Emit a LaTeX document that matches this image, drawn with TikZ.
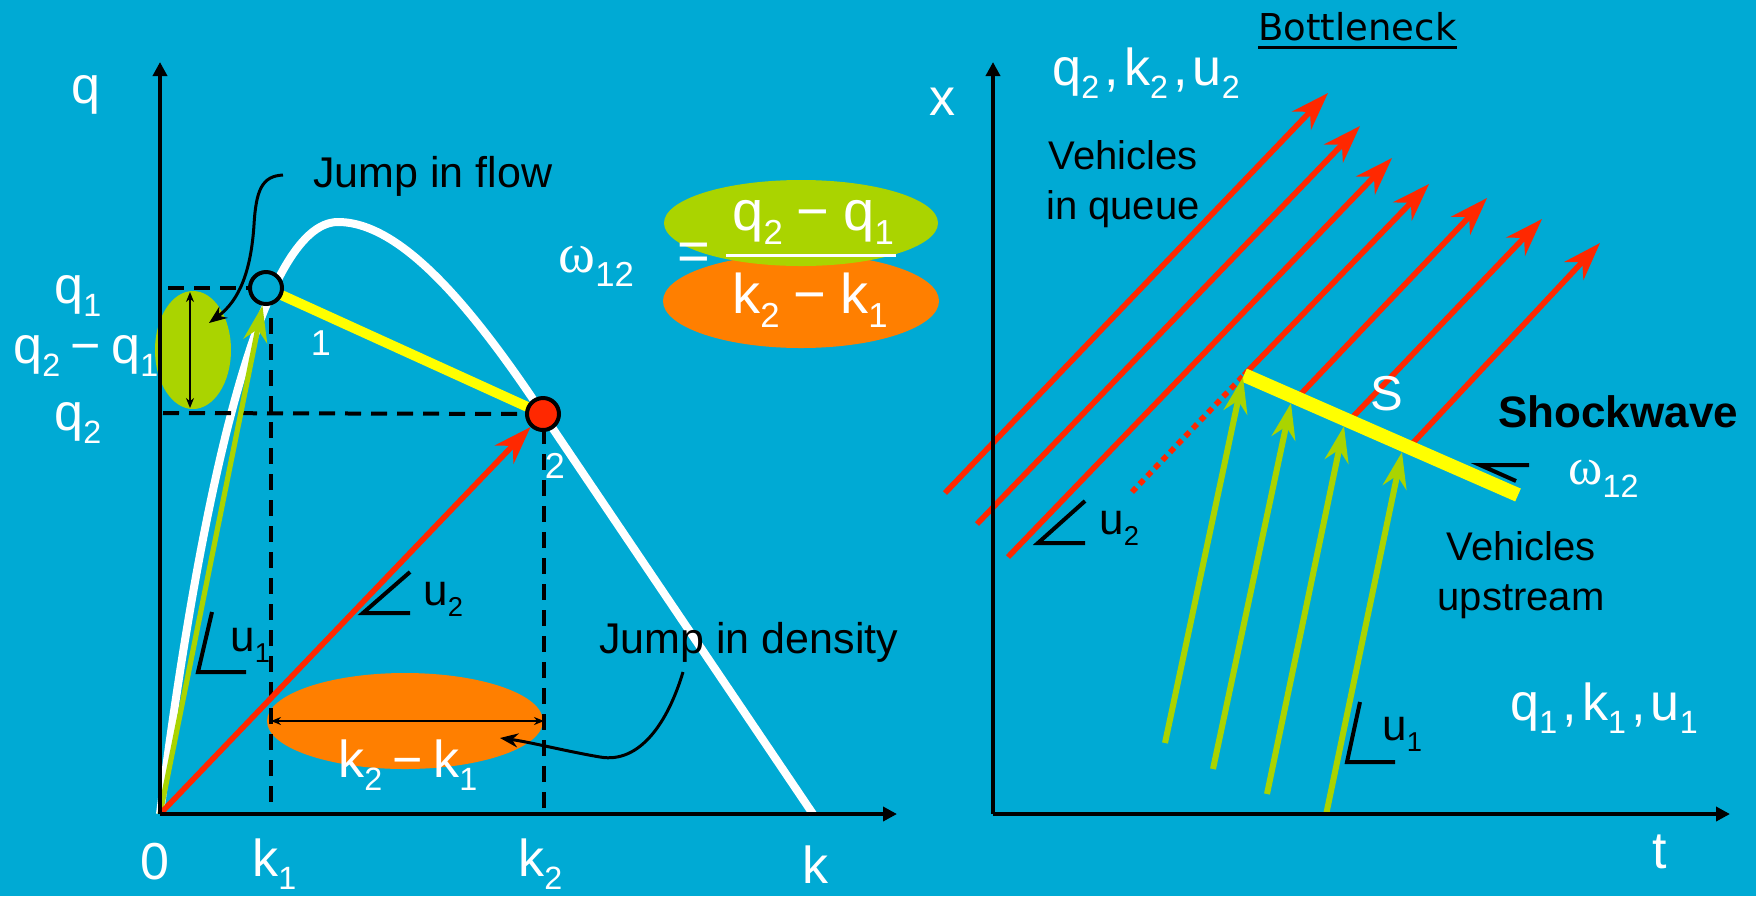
\documentclass[tikz,border=0pt]{standalone}
\usepackage{fontspec}
\usepackage{graphicx}
\setmainfont{Liberation Sans}
\newfontfamily\verd{DejaVu Sans}
\newfontfamily\grk{Liberation Serif}
\usetikzlibrary{arrows.meta,calc}
\definecolor{bg}{RGB}{0,170,212}
\definecolor{lgreen}{RGB}{170,212,0}
\definecolor{orng}{RGB}{255,127,0}
\definecolor{rd}{RGB}{255,40,0}
\definecolor{ylw}{RGB}{255,255,0}
\newcommand{\sbs}[1]{\raisebox{-0.26em}{\scalebox{0.62}{#1}}}
\newcommand{\om}{{\grk ω}}
\tikzset{
 lbl/.style={text=white, font=\fontsize{26}{30}\selectfont, inner sep=0pt},
 flbl/.style={text=white, font=\fontsize{28}{32}\selectfont, inner sep=0pt},
 numlbl/.style={text=white, font=\fontsize{18}{22}\selectfont, inner sep=0pt},
 notetxt/.style={text=black, font=\fontsize{21.5}{25}\selectfont, inner sep=0pt},
 veh/.style={text=black, font=\fontsize{20}{25}\selectfont, inner sep=0pt, align=center},
 slab/.style={text=black, font=\fontsize{22}{25}\selectfont, inner sep=0pt},
 axisline/.style={line width=2pt, -{Triangle[length=7pt,width=7pt]}},
 dashln/.style={line width=2pt, dash pattern=on 8pt off 5pt},
 slopemk/.style={line width=2pt, line join=miter},
 redarr/.style={draw=rd, line width=2.8pt, -{Stealth[length=19pt,width=13pt,inset=6pt]}},
 grnarr/.style={draw=lgreen, line width=3pt, -{Stealth[length=18pt,width=12pt,inset=6pt]}},
 calloutarr/.style={line width=1.5pt, -{Stealth[length=9pt,width=7pt]}},
 dimarr/.style={line width=1pt, {Stealth[length=5pt,width=4pt]}-{Stealth[length=5pt,width=4pt]}},
 ptcirc/.style={circle, draw=black, line width=2pt, minimum size=16pt, inner sep=0pt},
}
\begin{document}
\begin{tikzpicture}[x=0.5pt,y=-0.5pt]
\fill[bg] (0,0) rectangle (1756,896);
\useasboundingbox (0,0) rectangle (1756,896);

% ---------------- left panel ----------------
\coordinate (O) at (160,814);
\coordinate (p1) at (266,288);
\coordinate (p2) at (543,414);
\coordinate (pk) at (338,222);
\coordinate (kj) at (813,814);

\fill[orng] (405,721) ellipse [x radius=138, y radius=48];
\fill[lgreen] (193,350) ellipse [x radius=38, y radius=59];
\fill[orng] (801,301) ellipse [x radius=138, y radius=47];
\fill[lgreen] (801,223) ellipse [x radius=137, y radius=43];

% fundamental diagram curve
\draw[white, line width=4pt, line join=round] (O) .. controls (200,500) and (260,222) .. (pk)
  .. controls (400,222) and (470,304) .. (p2) -- (kj);

% dashed helper lines
\draw[dashln] (168,288) -- (p1);
\draw[dashln] (163,413) -- (p2);
\draw[dashln] (271,318) -- (271,814);
\draw[dashln] (544,428) -- (544,814);

% chord 1-2
\draw[ylw, line width=5pt] (p1) -- (p2);

% dimension arrows
\coordinate (dqa) at (190,292); \coordinate (dqb) at (190,408);
\draw[dimarr] (dqa) -- (dqb);
\coordinate (dka) at (271,721); \coordinate (dkb) at (544,721);
\draw[dimarr] (dka) -- (dkb);

% points
\node[ptcirc, fill=bg] (P1) at (p1) {};
\node[ptcirc, fill=rd] (P2) at (p2) {};

% speed lines
\draw[grnarr, line width=2.6pt] (O) -- (P1);
\draw[redarr] (O) -- (P2);

% axes
\draw[axisline] (O) -- (160,62);
\draw[axisline] (O) -- (897,814);

% slope markers
\draw[slopemk] (212,612) -- (198,672) -- (246,672);
\draw[slopemk] (410,572) -- (363,613) -- (410,613);
\node[slab, anchor=base west] (u1l) at (230,651) {u\sbs{1}};
\node[slab, anchor=base west] (u2l) at (423,605) {u\sbs{2}};

% labels
\node[lbl] (qax) at (86,95) {q};
\node[lbl, anchor=base west] (q1l) at (54,303) {q\sbs{1}};
\node[lbl, anchor=base west] (dq) at (13,363) {q\sbs{2}\hspace{0.2em}−\hspace{0.2em}q\sbs{1}};
\node[lbl, anchor=base west] (q2l) at (54,430) {q\sbs{2}};
\node[lbl] (zero) at (155,862) {0};
\node[lbl, anchor=base west] (k1l) at (252,876) {k\sbs{1}};
\node[lbl, anchor=base west] (k2l) at (518,876) {k\sbs{2}};
\node[lbl, anchor=base west] (kl) at (802,883) {k};
\node[lbl, anchor=base west] (dk) at (338,777) {k\sbs{2}\hspace{0.2em}−\hspace{0.2em}k\sbs{1}};
\node[numlbl] (one) at (321,343) {1};
\node[numlbl] (two) at (555,466) {2};

% formula
\node[flbl, anchor=base west] (om) at (558,272) {\om\sbs{12}};
\node[flbl] (eq) at (694,257) {=};
\node[flbl, anchor=base west] (num) at (732,230) {q\sbs{2}\hspace{0.25em}−\hspace{0.25em}q\sbs{1}};
\node[flbl, anchor=base west] (den) at (732,313) {k\sbs{2}\hspace{0.25em}−\hspace{0.25em}k\sbs{1}};
\draw[white, line width=1.5pt] (726,255) -- (896,255);

% callouts
\node[notetxt, anchor=base west] (jf) at (313,187) {Jump in flow};
\node[notetxt, anchor=base west] (jd) at (599,653) {Jump in density};
\coordinate (jfs) at (283,175);
\coordinate (jft) at (209,323);
\draw[calloutarr] (jfs) .. controls (262,176) and (256,190) .. (254,225)
  .. controls (251,270) and (240,300) .. (jft);
\coordinate (jds) at (683,672);
\coordinate (jdt) at (500,738);
\draw[calloutarr] (jds) .. controls (668,722) and (640,764) .. (600,757)
  .. controls (565,751) and (530,742) .. (jdt);

% ---------------- right panel ----------------
\coordinate (O2) at (993,814);
\coordinate (S1) at (1244,375);
\coordinate (S2) at (1518,495);

% vehicle trajectories in queue
\coordinate (r1s) at (945,493);  \coordinate (r1e) at (1328,93);
\coordinate (r2s) at (977,524);  \coordinate (r2e) at (1360,126);
\coordinate (r3s) at (1008,557); \coordinate (r3e) at (1392,158);
\coordinate (r4e) at (1429,184);
\coordinate (r5s) at ($(S1)!0.193!(S2)$); \coordinate (r5e) at (1487,198);
\coordinate (r6s) at ($(S1)!0.383!(S2)$); \coordinate (r6e) at (1542,219);
\coordinate (r7s) at ($(S1)!0.602!(S2)$); \coordinate (r7e) at (1600,243);
\coordinate (r4d) at (1132,492);
\draw[redarr] (r1s) -- (r1e);
\draw[redarr] (r2s) -- (r2e);
\draw[redarr] (r3s) -- (r3e);
\draw[redarr] (S1) -- (r4e);
\draw[redarr] (r5s) -- (r5e);
\draw[redarr] (r6s) -- (r6e);
\draw[redarr] (r7s) -- (r7e);
\draw[rd, line width=2.8pt, dash pattern=on 3pt off 2.5pt] (r4d) -- (S1);

% shockwave
\draw[ylw, line width=7pt] (S1) -- (S2);

% upstream vehicles
\coordinate (g1s) at (1165,743); \coordinate (g1e) at (1243,377);
\coordinate (g2s) at (1213,769); \coordinate (g2e) at (1291,403);
\coordinate (g3s) at (1267,794); \coordinate (g3e) at (1344,426);
\coordinate (g4s) at (1326,815); \coordinate (g4e) at (1402,452);
\draw[grnarr] (g1s) -- (g1e);
\draw[grnarr] (g2s) -- (g2e);
\draw[grnarr] (g3s) -- (g3e);
\draw[grnarr] (g4s) -- (g4e);

% axes
\draw[axisline] (O2) -- (993,62);
\draw[axisline] (O2) -- (1730,814);
\node[lbl] (xl) at (942,102) {x};
\node[lbl] (tl) at (1660,852) {t};

% slope markers
\draw[slopemk] (1085,501) -- (1038,543) -- (1085,543);
\node[slab, anchor=base west] (u2r) at (1099,534) {u\sbs{2}};
\draw[slopemk] (1360,702) -- (1347,762) -- (1395,762);
\node[slab, anchor=base west] (u1r) at (1382,740) {u\sbs{1}};
\draw[slopemk] (1529,465) -- (1480,465) -- (1516,481);
\node[lbl, anchor=base west] (om2) at (1568,484) {\om\sbs{12}};

% texts
\node[anchor=base west, inner sep=0pt, font=\verd\fontsize{18.5}{22}\selectfont] (bn) at (1258,40) {Bottleneck};
\draw[line width=1.5pt] ($(bn.base west)+(0,7)$) -- ($(bn.base east)+(0,7)$);
\node[lbl, anchor=base west] (st2) at (1052,85) {q\sbs{2}\hspace{0.1em},\hspace{0.1em}k\sbs{2}\hspace{0.1em},\hspace{0.1em}u\sbs{2}};
\node[veh] (viq) at (1123,184) {Vehicles\\in queue};
\node[text=white, font=\fontsize{24.5}{28}\selectfont, inner sep=0pt] (Sl) at (1387,394) {S};
\node[anchor=base west, inner sep=0pt, font=\bfseries\fontsize{22}{26}\selectfont] (sw) at (1498,427) {Shockwave};
\node[veh] (vup) at (1521,575) {Vehicles\\upstream};
\node[lbl, anchor=base west] (st1) at (1510,720) {q\sbs{1}\hspace{0.1em},\hspace{0.1em}k\sbs{1}\hspace{0.1em},\hspace{0.1em}u\sbs{1}};
\end{tikzpicture}
\end{document}
